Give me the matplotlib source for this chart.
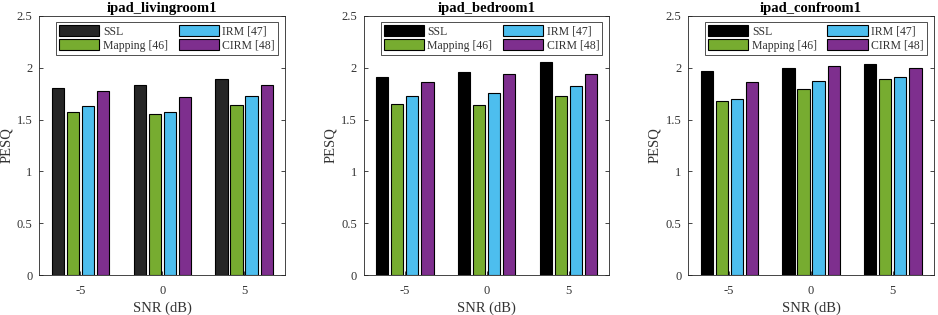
import matplotlib
matplotlib.use("Agg")
import matplotlib.pyplot as plt
import numpy as np

plt.rcParams['font.family'] = ['Liberation Serif', 'DejaVu Serif']

snr_labels = ['-5', '0', '5']
methods = ['SSL', 'Mapping [46]', 'IRM [47]', 'CIRM [48]']
titles = ['ipad_livingroom1', 'ipad_bedroom1', 'ipad_confroom1']

livingroom = {
    'SSL': [1.80, 1.83, 1.89],
    'Mapping [46]': [1.57, 1.55, 1.64],
    'IRM [47]': [1.63, 1.57, 1.73],
    'CIRM [48]': [1.78, 1.72, 1.83],
}
bedroom = {
    'SSL': [1.91, 1.96, 2.05],
    'Mapping [46]': [1.65, 1.64, 1.73],
    'IRM [47]': [1.73, 1.76, 1.82],
    'CIRM [48]': [1.86, 1.94, 1.94],
}
confroom = {
    'SSL': [1.97, 2.00, 2.04],
    'Mapping [46]': [1.68, 1.79, 1.89],
    'IRM [47]': [1.70, 1.87, 1.91],
    'CIRM [48]': [1.86, 2.02, 2.00],
}
datasets = [livingroom, bedroom, confroom]

colors_panel = [
    ['#262626', '#77AC30', '#4DBEEE', '#7E2F8E'],
    ['#000000', '#77AC30', '#4DBEEE', '#7E2F8E'],
    ['#000000', '#77AC30', '#4DBEEE', '#7E2F8E'],
]

fig = plt.figure(figsize=(9.38, 3.15), dpi=100)
lefts = [0.0421, 0.388, 0.7338]
x = np.arange(1, len(snr_labels) + 1)
spacing = 0.184
width = 0.149

for i, (data, title) in enumerate(zip(datasets, titles)):
    ax = fig.add_axes([lefts[i], 0.126, 0.2617, 0.824])
    handles = []
    for j, m in enumerate(methods):
        offs = (j - 1.5) * spacing
        b = ax.bar(x + offs, data[m], width=width, color=colors_panel[i][j],
                   edgecolor='black', linewidth=0.8, label=m)
        handles.append(b)
    ax.set_xlim(0.5, 3.5)
    ax.set_ylim(0, 2.5)
    ax.set_xticks(x)
    ax.set_xticklabels(snr_labels)
    ax.set_yticks([0, 0.5, 1, 1.5, 2, 2.5])
    ax.set_yticklabels(['0', '0.5', '1', '1.5', '2', '2.5'])
    ax.tick_params(direction='in', top=False, right=True, labelsize=9,
                   length=3, width=0.6, colors='#262626', labelcolor='#333333')
    ax.tick_params(axis='x', pad=7)
    ax.tick_params(axis='y', pad=5)
    for s in ax.spines.values():
        s.set_linewidth(0.6)
        s.set_color('#262626')
    ax.set_xlabel('SNR (dB)', fontsize=10.5, color='#333333', labelpad=3)
    ax.set_ylabel('PESQ', fontsize=10.5, color='#333333', labelpad=3)
    ax.set_title(title, fontsize=10.5, fontweight='bold', pad=3)
    leg = ax.legend(handles, methods,
                    ncol=2, loc='upper center', bbox_to_anchor=(0.52, 0.975),
                    fontsize=8.5, frameon=True, fancybox=False, edgecolor='black',
                    handlelength=3.4, handleheight=1.0, handletextpad=0.3,
                    columnspacing=0.9, borderpad=0.25, labelspacing=0.15,
                    borderaxespad=0.0)
    leg.get_frame().set_linewidth(0.6)
    for t in leg.get_texts():
        t.set_color('#333333')

fig.savefig('out.png', dpi=100)
